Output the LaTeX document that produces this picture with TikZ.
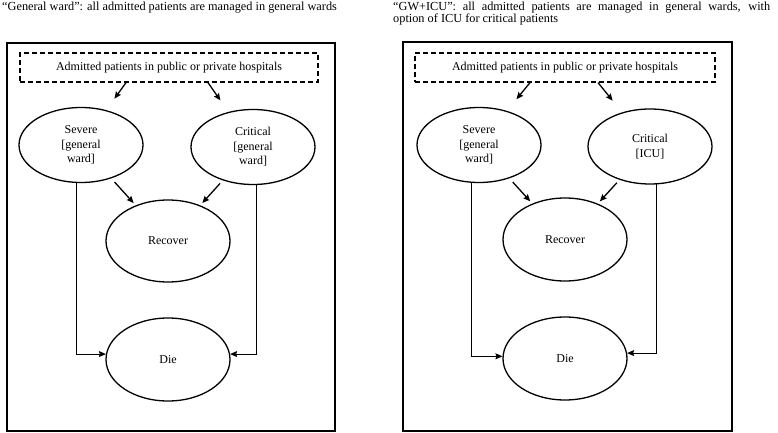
\documentclass[tikz,border=0pt]{standalone}
\usepackage{fontspec}
\setmainfont{Liberation Serif}
\usetikzlibrary{shapes.geometric,arrows.meta}
\tikzset{
  frame/.style={draw,line width=1.6pt},
  dbox/.style={draw,dashed,dash pattern=on 5pt off 3pt,line width=1.3pt,minimum height=29pt,inner sep=0pt,font=\fontsize{12}{14}\selectfont},
  st/.style={ellipse,draw,line width=1.3pt,minimum width=124pt,minimum height=75pt,inner sep=0pt,align=center,font=\fontsize{12}{14.5}\selectfont},
  arr/.style={-{Stealth[length=7pt,width=6pt,inset=1pt]},line width=1.3pt},
  link/.style={-{Stealth[length=7pt,width=6pt,inset=1pt]},line width=1pt},
  ttl/.style={inner sep=0pt,font=\fontsize{12.3}{12.5}\selectfont}
}
\begin{document}
\begin{tikzpicture}[x=1pt,y=-1pt]
\useasboundingbox (0,0) rectangle (778,433);
% titles
\node[ttl,anchor=west] (t1) at (2,8) {``General ward'': all admitted patients are managed in general wards};
\node[ttl,anchor=north west,text width=377pt,align=justify] (t2) at (393,1.5) {``GW+ICU'': all admitted patients are managed in general wards, with\linebreak option of ICU for critical patients};
% frames
\draw[frame] (7,43) rectangle (335,431);
\draw[frame] (403,42) rectangle (732,431);
% left panel
\node[dbox,minimum width=298pt] (topL) at (169,67.5) {Admitted patients in public or private hospitals};
\node[st] (sevL) at (81,145) {Severe\\{[}general\\ward{]}};
\node[st] (critL) at (253,147) {Critical\\{[}general\\ward{]}};
\node[st,minimum height=82pt] (recL) at (168,241) {Recover};
\node[st,minimum height=83pt] (dieL) at (168,359.5) {Die};
\draw[arr,shorten >=14pt] ([xshift=-43pt]topL.south) -- (sevL);
\draw[arr,shorten >=14pt] ([xshift=39pt]topL.south) -- (critL);
\draw[arr,shorten <=5pt,shorten >=3pt] (sevL) -- (recL);
\draw[arr,shorten <=4pt,shorten >=3pt] (critL) -- (recL);
\draw[link] (sevL.-97) |- (dieL.175);
\draw[link] (critL.-85) |- (dieL.5);
% right panel
\node[dbox,minimum width=300pt] (topR) at (565,67.5) {Admitted patients in public or private hospitals};
\node[st] (sevR) at (479,145) {Severe\\{[}general\\ward{]}};
\node[st] (critR) at (650,146.5) {Critical\\{[}ICU{]}};
\node[st,minimum height=83pt] (recR) at (565,239.5) {Recover};
\node[st,minimum height=83pt] (dieR) at (565,358.5) {Die};
\draw[arr,shorten >=15pt] ([xshift=-35pt]topR.south) -- (sevR);
\draw[arr,shorten >=15pt] ([xshift=33pt]topR.south) -- (critR);
\draw[arr,shorten <=5pt,shorten >=3pt] (sevR) -- (recR);
\draw[arr,shorten <=4pt,shorten >=3pt] (critR) -- (recR);
\draw[link] (sevR.-101) |- (dieR.178);
\draw[link] (critR.-81) |- (dieR.5);
\end{tikzpicture}
\end{document}
